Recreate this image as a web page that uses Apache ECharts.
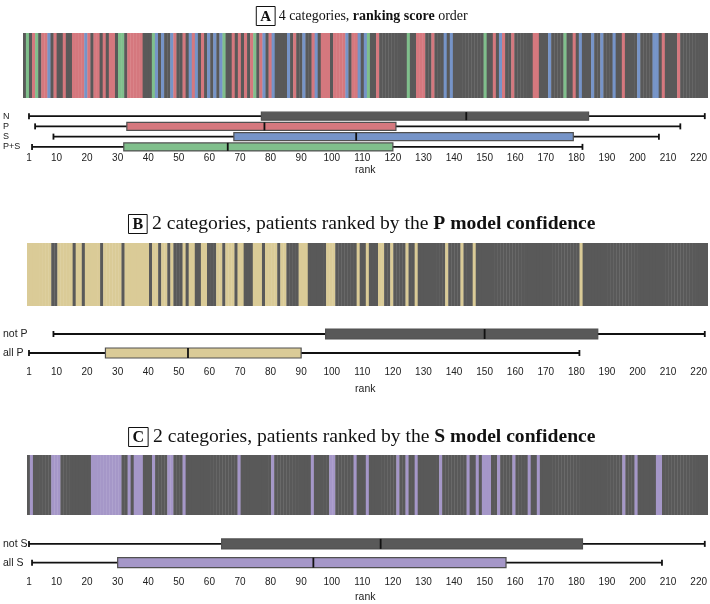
<!DOCTYPE html>
<html><head><meta charset="utf-8">
<script src="https://cdn.jsdelivr.net/npm/echarts@6/dist/echarts.min.js"></script>
<style>html,body{margin:0;padding:0;background:#fff}#c{width:710px;height:604px}</style>
</head><body><div id="c"></div>
<script>
// ---- data ----
const nRanks = 223;
// panel A strip: N=no marker, P, S, B=P+S  (ranks 1..223, groups of 10)
const stripA = ["NBNPBNPPSN","PNNPNNPPPP","SPNPPNPNPP","NBBNPPPPPN","NNBSNSNNSP",
  "NNPNSPSNPN","SNSNSBNNPN","PNPNPBNPSN","PSNNNNSNPN","NSNNPSNPPP",
  "NPPPPSNPPS","NSBNNPNNNN","NNNNNBNNPP","PNNPNNNSNS","NNNNNNNNNN",
  "BNNPNSPNNP","NNNNNNPPNN","NSNNNNBNNP","NSNNNSNNSN","NNSNNPNNNN",
  "SNNNNSSNPN","NNNPNNNNNN","NNN"];
// panel B strip: T=all P, N=not P
const stripB = ["TTTTTTTTNN","TTTTTNTTNT","TTTTNTTTTT","TNTTTTTTTT","NTTNTTNTNN",
  "NTNTTNNTTN","NNTTNTTTNT","TNNNTTTNTT","TTNTTNNNNT","TTNNNNNNTT",
  "TNNNNNNNTN","NTNNNTTNNT","NNNNTNNTNN","NNNNNNNTNN","NNTNNNTNNN",
  "NNNNNNNNNN","NNNNNNNNNN","NNNNNNNNNN","NTNNNNNNNN","NNNNNNNNNN",
  "NNNNNNNNNN","NNNNNNNNNN","NNN"];
// panel C strip: V=all S, N=not S
const stripC = ["NVNNNNNNVV","VNNNNNNNNN","NVVVVVVVVV","VNNVNVVVNN","NVNNNNVVNN",
  "NVNNNNNNNN","NNNNNNNNNV","NNNNNNNNNN","VNNNNNNNNN","NNNVNNNNNV",
  "VNNNNNNVNN","NVNNNNNNNN","NVNNVNNVNN","NNNNNVNNNN","NNNNVNNVNV",
  "VVNNVNNNNV","NNNNVNNVNN","NNNNNNNNNN","NNNNNNNNNN","NNNNNVNNNV",
  "NNNNNNVVNN","NNNNNNNNNN","NNN"];

const catsA = ['N', 'P', 'S', 'P+S'];
const boxA = [[1, 77, 144, 184, 222], [3, 33, 78, 121, 214], [9, 68, 108, 179, 207], [2, 32, 66, 120, 182]];
const catsB = ['not P', 'all P'];
const boxB = [[9, 98, 150, 187, 222], [1, 26, 53, 90, 181]];
const catsC = ['not S', 'all S'];
const boxC = [[1, 64, 116, 182, 222], [2, 30, 94, 157, 208]];
const rankTicks = [1, 10, 20, 30, 40, 50, 60, 70, 80, 90, 100, 110, 120, 130, 140, 150, 160, 170, 180, 190, 200, 210, 220];

// ---- styles ----
const DARK = '#595959';
const colA = { N: DARK, P: '#d5787e', S: '#7694c8', B: '#80bf8c' };
const colB = { N: DARK, T: '#dacb97' };
const colC = { N: DARK, V: '#a597c8' };
const boxColA = [DARK, '#d5787e', '#7694c8', '#80bf8c'];
const boxColB = [DARK, '#dacb97'];
const boxColC = [DARK, '#a597c8'];

const rankCats = Array.from({ length: nRanks }, (_, i) => String(i + 1));

function stripSeries(strip, cols, idx) {
  const seq = strip.join('').split('');
  return {
    type: 'bar', xAxisIndex: idx, yAxisIndex: idx, silent: true,
    barWidth: '112%', barGap: '-100%',
    itemStyle: { borderWidth: 0 },
    data: seq.map(c => ({ value: 1, itemStyle: { color: cols[c] } }))
  };
}

function boxRender(colors, boxH, capH) {
  return function (params, api) {
    const i = api.value(0);
    const y = api.coord([api.value(3), i])[1];
    const xs = [1, 2, 3, 4, 5].map(k => api.coord([api.value(k), i])[0]);
    const ls = { stroke: '#111', lineWidth: 1.8 };
    return {
      type: 'group', children: [
        { type: 'line', shape: { x1: xs[0], y1: y, x2: xs[4], y2: y }, style: ls },
        { type: 'line', shape: { x1: xs[0], y1: y - capH / 2, x2: xs[0], y2: y + capH / 2 }, style: ls },
        { type: 'line', shape: { x1: xs[4], y1: y - capH / 2, x2: xs[4], y2: y + capH / 2 }, style: ls },
        { type: 'rect', shape: { x: xs[1], y: y - boxH / 2, width: xs[3] - xs[1], height: boxH },
          style: { fill: colors[i], stroke: '#505050', lineWidth: 1.2 } },
        { type: 'line', shape: { x1: xs[2], y1: y - boxH / 2, x2: xs[2], y2: y + boxH / 2 }, style: { stroke: '#111', lineWidth: 1.8 } }
      ]
    };
  };
}

function boxSeries(data, colors, idx, boxH, capH) {
  return {
    type: 'custom', xAxisIndex: idx, yAxisIndex: idx, silent: true,
    encode: { x: [1, 2, 3, 4, 5], y: 0 },
    renderItem: boxRender(colors, boxH, capH),
    data: data.map((v, i) => [i].concat(v))
  };
}

function rankAxis(idx, margin, nameGap) {
  return {
    type: 'value', gridIndex: idx, min: -0.63, max: 222.6,
    axisLine: { show: false }, axisTick: { show: false }, splitLine: { show: false },
    axisLabel: { customValues: rankTicks, fontSize: 10, color: '#222', margin: margin, fontFamily: 'Liberation Sans' },
    name: 'rank', nameLocation: 'middle', nameGap: nameGap,
    nameTextStyle: { fontSize: 10.5, color: '#222', fontFamily: 'Liberation Sans', verticalAlign: 'top' }
  };
}
function catAxis(idx, cats, fs) {
  return {
    type: 'category', gridIndex: idx, data: cats, inverse: true,
    axisLine: { show: false }, axisTick: { show: false }, splitLine: { show: false },
    axisLabel: { interval: 0, align: 'left', margin: 21, fontSize: fs, color: '#222', fontFamily: 'Liberation Sans' }
  };
}
function stripX(idx) { return { type: 'category', gridIndex: idx, data: rankCats, show: false }; }
function stripY(idx) { return { type: 'value', gridIndex: idx, min: 0, max: 1, show: false }; }

const serif = 'Liberation Serif';
function makeRich(fs, boxFs, pad) {
  return {
    box: { borderColor: '#111', borderWidth: 1, padding: pad, fontWeight: 'bold', fontSize: boxFs, fontFamily: serif, fill: '#111' },
    b: { fontWeight: 'bold', fontSize: fs, fontFamily: serif, fill: '#111' },
    t: { fontSize: fs, fontFamily: serif, fill: '#111' }
  };
}
function titleText(y, str, fs, boxFs, pad) {
  return { type: 'text', x: 362, y: y, style: { text: str, rich: makeRich(fs, boxFs, pad), align: 'center', verticalAlign: 'middle', fontSize: fs, fontFamily: serif, fill: '#111' } };
}

const chart = echarts.init(document.getElementById('c'), null, { renderer: 'canvas' });
chart.setOption({
  animation: false,
  backgroundColor: '#fff',
  grid: [
    { left: 23, top: 33, width: 685, height: 65 },
    { left: 23, top: 111, width: 685, height: 41 },
    { left: 27, top: 243, width: 681, height: 63 },
    { left: 23, top: 324.5, width: 685, height: 38 },
    { left: 27, top: 455, width: 681, height: 60 },
    { left: 23, top: 534.5, width: 685, height: 38 }
  ],
  xAxis: [stripX(0), rankAxis(1, 1, 13), stripX(2), rankAxis(3, 5, 21), stripX(4), rankAxis(5, 5, 20)],
  yAxis: [stripY(0), catAxis(1, catsA, 9), stripY(2), catAxis(3, catsB, 10.5), stripY(4), catAxis(5, catsC, 10.5)],
  series: [
    stripSeries(stripA, colA, 0),
    boxSeries(boxA, boxColA, 1, 8, 6),
    stripSeries(stripB, colB, 2),
    boxSeries(boxB, boxColB, 3, 10, 6),
    stripSeries(stripC, colC, 4),
    boxSeries(boxC, boxColC, 5, 10, 6)
  ],
  graphic: [
    titleText(16, '{box|A} {t|4 categories, }{b|ranking score}{t| order}', 14, 15, [3, 4, 1, 4]),
    titleText(224, '{box|B} {t|2 categories, patients ranked by the }{b|P model confidence}', 19.6, 16, [2, 4, 1, 4]),
    titleText(437, '{box|C} {t|2 categories, patients ranked by the }{b|S model confidence}', 19.6, 16, [2, 4, 1, 4])
  ]
});
</script>
</body></html>
